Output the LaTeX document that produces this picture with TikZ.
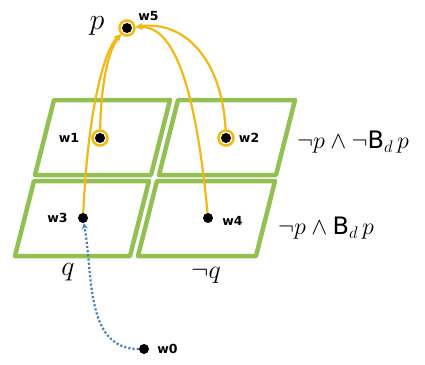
\RequirePackage{fix-cm}
\documentclass[tikz,border=0pt]{standalone}
\usepackage{fontspec}
\setsansfont{DejaVu Sans}
\usetikzlibrary{arrows.meta,positioning}

\begin{document}
\begin{tikzpicture}[x=1pt, y=-1pt]
  % --- Colours ---
  \definecolor{cellgreen}{RGB}{146, 192, 82}  % frame of the cells
  \definecolor{accyellow}{RGB}{242, 184, 20}  % accessibility arrows
  \definecolor{obsblue}{RGB}{76, 126, 190}    % dotted arrow from w0

  % --- Styles ---
  \tikzset{
    cell/.style={draw=cellgreen, line width=4.5pt, line join=round},
    world/.style={circle, fill=black, inner sep=0pt, minimum size=10pt},
    ringed/.style={circle, draw=accyellow, line width=2.5pt, inner sep=0pt, minimum size=15pt},
    wlabel/.style={font=\sffamily\bfseries\fontsize{12.5}{14}\selectfont, inner sep=0pt},
    formula/.style={font=\fontsize{24}{28}\selectfont, inner sep=0pt},
    acc/.style={draw=accyellow, line width=2.2pt, -{Stealth[length=7pt, width=6pt]}},
    obs/.style={draw=obsblue, line width=2.2pt, dotted, -{Stealth[length=6pt, width=6pt]}}
  }

  \useasboundingbox (0,0) rectangle (425,364);

  % --- The four cells ---
  \foreach \x/\y/\w in {54/100/116, 178/100/117, 34/181/115, 157/181/118}
    \draw[cell] (\x,\y) -- ++(\w,0) -- ++(-19,75) -- ++(-\w,0) -- cycle;

  % --- Worlds ---
  \node[world] (w5) at (127,28) {};
  \node[ringed] (w5r) at (w5) {};
  \node[world] (w1) at (100,138) {};
  \node[ringed] (w1r) at (w1) {};
  \node[world] (w2) at (226,138) {};
  \node[ringed] (w2r) at (w2) {};
  \node[world] (w3) at (83,218) {};
  \node[world] (w4) at (208,218) {};
  \node[world] (w0) at (144,349) {};

  % --- World names ---
  \node[wlabel, above right=1pt and 5pt of w5r] {w5};
  \node[wlabel, left=12pt of w1r] {w1};
  \node[wlabel, right=4pt of w2r] {w2};
  \node[wlabel, left=10pt of w3] {w3};
  \node[wlabel, right=9pt of w4, yshift=-3pt] {w4};
  \node[wlabel, right=8pt of w0] {w0};

  % --- Accessibility arrows (into w5) ---
  \draw[acc] (w3) .. controls (88,110) and (104,50) .. (w5r);
  \draw[acc] (w1r) .. controls (101,85) and (108,50) .. (w5r);
  \draw[acc] (w4) .. controls (195,80) and (172,25) .. (w5r);
  \draw[acc] (w2r) .. controls (222,60) and (185,20) .. (w5r);

  % --- Dotted arrow from w0 ---
  \draw[obs] (w0) to[out=180, in=-80] (w3);

  % --- Formulas ---
  \node[font=\fontsize{30}{32}\selectfont, inner sep=0pt] (lp) at (97,26) {$p$};
  \node[formula, anchor=west] (row1) at (297,142) {$\neg p \wedge \neg \mathsf{B}_d\, p$};
  \node[formula, anchor=west] (row2) at (278,228) {$\neg p \wedge \mathsf{B}_d\, p$};
  \node[font=\fontsize{28}{30}\selectfont, inner sep=0pt] (lq) at (68,272) {$q$};
  \node[font=\fontsize{26}{28}\selectfont, inner sep=0pt] (lnq) at (206,275) {$\neg q$};
\end{tikzpicture}
\end{document}
